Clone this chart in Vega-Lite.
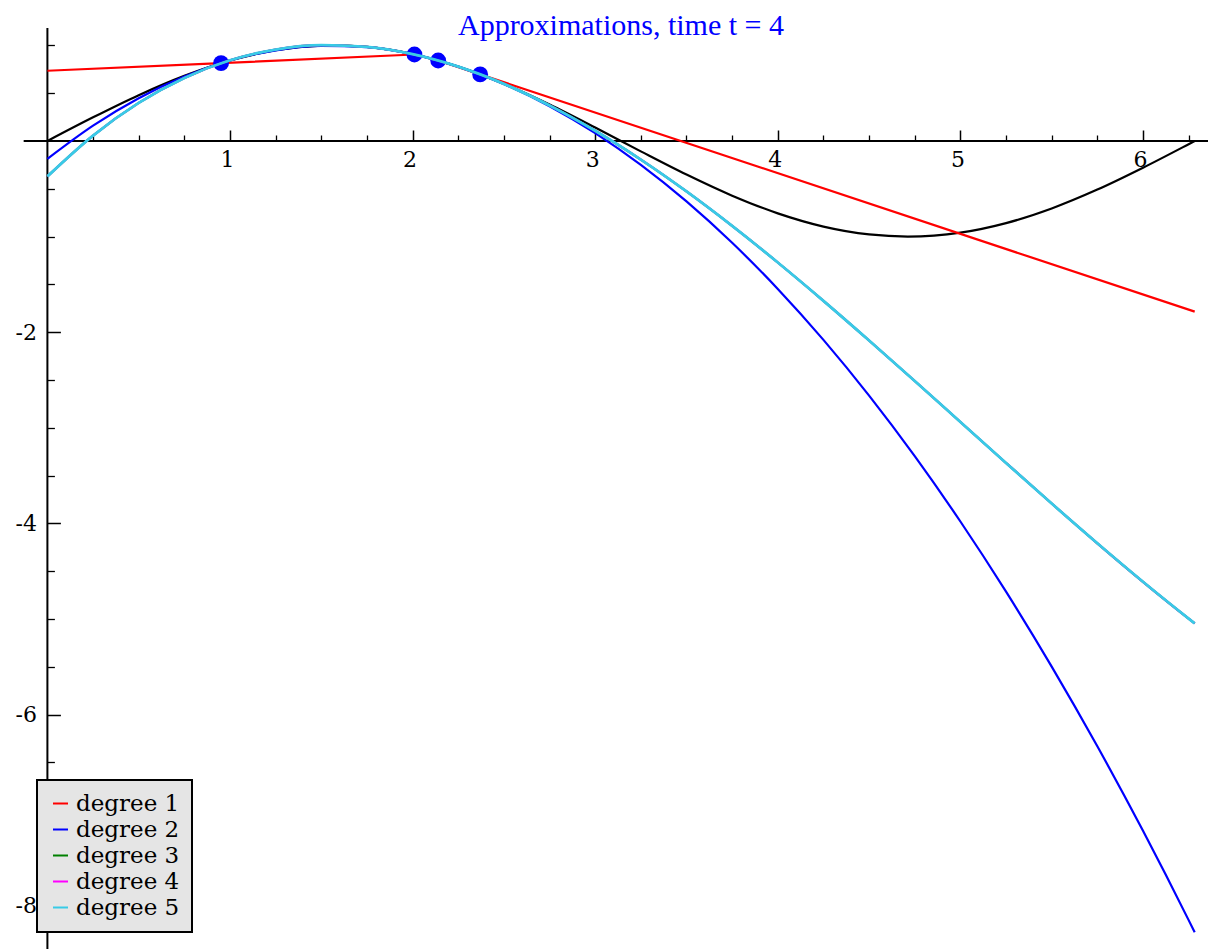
{
  "$schema": "https://vega.github.io/schema/vega-lite/v6.json",
  "width": 1208,
  "height": 949,
  "autosize": {"type": "none"},
  "padding": 0,
  "background": "white",
  "view": {"stroke": null},
  "title": {"text": "Approximations, time t = 4", "color": "#0000ff", "font": "Liberation Serif", "fontSize": 30, "fontWeight": "normal", "anchor": "middle", "frame": "group", "baseline": "alphabetic", "offset": -65, "dx": 17},
  "datasets": {
    "xaxis": [{"x": -0.13, "x2": 6.356, "y": 0}],
    "yaxis": [{"x": 0, "y": -8.452, "y2": 1.182}],
    "sin": [
      {"x": 0, "y": 0}, {"x": 0.25, "y": 0.2474}, {"x": 0.5, "y": 0.4794}, {"x": 0.75, "y": 0.6816},
      {"x": 1, "y": 0.8415}, {"x": 1.25, "y": 0.949}, {"x": 1.5, "y": 0.9975}, {"x": 1.5708, "y": 1.0},
      {"x": 1.75, "y": 0.984}, {"x": 2, "y": 0.9093}, {"x": 2.25, "y": 0.7781}, {"x": 2.5, "y": 0.5985},
      {"x": 2.75, "y": 0.3817}, {"x": 3, "y": 0.1411}, {"x": 3.25, "y": -0.1082}, {"x": 3.5, "y": -0.3508},
      {"x": 3.75, "y": -0.5716}, {"x": 4, "y": -0.7568}, {"x": 4.25, "y": -0.895}, {"x": 4.5, "y": -0.9775},
      {"x": 4.7124, "y": -1.0}, {"x": 5, "y": -0.9589}, {"x": 5.25, "y": -0.8589}, {"x": 5.5, "y": -0.7055},
      {"x": 5.75, "y": -0.5083}, {"x": 6, "y": -0.2794}, {"x": 6.25, "y": -0.0332}, {"x": 6.2832, "y": 0}
    ],
    "red": [
      {"x": 0, "y": 0.735}, {"x": 0.951, "y": 0.814}, {"x": 2.01, "y": 0.905},
      {"x": 2.14, "y": 0.842}, {"x": 2.37, "y": 0.697}, {"x": 6.2832, "y": -1.785}
    ],
    "blue": [
      {"x": 0, "y": -0.1867}, {"x": 0.25, "y": 0.1606}, {"x": 0.5, "y": 0.4479}, {"x": 0.75, "y": 0.675},
      {"x": 1, "y": 0.842}, {"x": 1.25, "y": 0.9489}, {"x": 1.5, "y": 0.9957}, {"x": 1.75, "y": 0.9824},
      {"x": 2, "y": 0.909}, {"x": 2.25, "y": 0.778}, {"x": 2.5, "y": 0.5963}, {"x": 2.75, "y": 0.3644},
      {"x": 3, "y": 0.0824}, {"x": 3.25, "y": -0.2499}, {"x": 3.5, "y": -0.6322}, {"x": 3.75, "y": -1.0648},
      {"x": 4, "y": -1.5475}, {"x": 4.25, "y": -2.0804}, {"x": 4.5, "y": -2.6635}, {"x": 4.75, "y": -3.2968},
      {"x": 5, "y": -3.9802}, {"x": 5.25, "y": -4.7138}, {"x": 5.5, "y": -5.4976}, {"x": 5.75, "y": -6.3315},
      {"x": 6, "y": -7.2156}, {"x": 6.25, "y": -8.1499}, {"x": 6.2832, "y": -8.2777}
    ],
    "cubic": [
      {"x": 0, "y": -0.37}, {"x": 0.25, "y": 0.0572}, {"x": 0.5, "y": 0.399}, {"x": 0.75, "y": 0.6599},
      {"x": 1, "y": 0.8444}, {"x": 1.25, "y": 0.9569}, {"x": 1.5, "y": 1.002}, {"x": 1.75, "y": 0.9841},
      {"x": 2, "y": 0.9078}, {"x": 2.25, "y": 0.7774}, {"x": 2.5, "y": 0.5976}, {"x": 2.75, "y": 0.3726},
      {"x": 3, "y": 0.1072}, {"x": 3.25, "y": -0.1944}, {"x": 3.5, "y": -0.5275}, {"x": 3.75, "y": -0.8878},
      {"x": 4, "y": -1.2707}, {"x": 4.25, "y": -1.6717}, {"x": 4.5, "y": -2.0864}, {"x": 4.75, "y": -2.5103},
      {"x": 5, "y": -2.9389}, {"x": 5.25, "y": -3.3677}, {"x": 5.5, "y": -3.7923}, {"x": 5.75, "y": -4.2081},
      {"x": 6, "y": -4.6107}, {"x": 6.25, "y": -4.9956}, {"x": 6.2832, "y": -5.0452}
    ],
    "pts": [
      {"x": 0.951, "y": 0.814}, {"x": 2.01, "y": 0.905}, {"x": 2.14, "y": 0.842}, {"x": 2.37, "y": 0.697}
    ]
  },
  "resolve": {"axis": {"x": "independent", "y": "independent"}},
  "layer": [
    {
      "data": {"name": "xaxis"},
      "mark": {"type": "rule", "color": "black", "strokeWidth": 2},
      "encoding": {
        "x": {"field": "x", "type": "quantitative", "scale": {"domain": [-0.2596, 6.356], "nice": false, "zero": false},
          "axis": {"orient": "bottom", "offset": -808, "values": [0.25, 0.5, 0.75, 1.25, 1.5, 1.75, 2.25, 2.5, 2.75, 3.25, 3.5, 3.75, 4.25, 4.5, 4.75, 5.25, 5.5, 5.75, 6.25],
            "domain": false, "grid": false, "labels": false, "title": null, "tickSize": -6, "tickWidth": 1.3, "tickColor": "black"}},
        "x2": {"field": "x2"},
        "y": {"field": "y", "type": "quantitative", "scale": {"domain": [-8.452, 1.475], "nice": false, "zero": false},
          "axis": {"orient": "left", "offset": -47.4, "values": [-7.5, -7, -6.5, -5.5, -5, -4.5, -3.5, -3, -2.5, -1.5, -1, -0.5, 0.5, 1],
            "domain": false, "grid": false, "labels": false, "title": null, "tickSize": -7, "tickWidth": 1.3, "tickColor": "black"}}
      }
    },
    {
      "data": {"name": "yaxis"},
      "mark": {"type": "rule", "color": "black", "strokeWidth": 2},
      "encoding": {
        "x": {"field": "x", "type": "quantitative", "scale": {"domain": [-0.2596, 6.356], "nice": false, "zero": false}, "axis": null},
        "y": {"field": "y", "type": "quantitative", "scale": {"domain": [-8.452, 1.475], "nice": false, "zero": false}, "axis": null},
        "y2": {"field": "y2"}
      }
    },
    {
      "data": {"name": "sin"},
      "mark": {"type": "line", "color": "black", "strokeWidth": 2.2, "interpolate": "monotone"},
      "encoding": {
        "x": {"field": "x", "type": "quantitative", "scale": {"domain": [-0.2596, 6.356], "nice": false, "zero": false},
          "axis": {"orient": "bottom", "offset": -808, "values": [1, 2, 3, 4, 5, 6], "domain": false, "grid": false, "title": null,
            "tickSize": -11, "tickWidth": 1.5, "tickColor": "black", "labelFont": "DejaVu Serif", "labelFontSize": 22, "labelColor": "black",
            "labelPadding": 19, "labelBaseline": "top", "labelOffset": -3, "labelFlush": false, "labelOverlap": false, "labelExpr": "'' + datum.value"}},
        "y": {"field": "y", "type": "quantitative", "scale": {"domain": [-8.452, 1.475], "nice": false, "zero": false},
          "axis": {"orient": "left", "offset": -47.4, "values": [-8, -6, -4, -2], "domain": false, "grid": false, "title": null,
            "tickSize": -13, "tickWidth": 1.5, "tickColor": "black", "labelFont": "DejaVu Serif", "labelFontSize": 22, "labelColor": "black",
            "labelPadding": 24, "labelFlush": false, "labelOverlap": false, "labelExpr": "'' + datum.value"}}
      }
    },
    {
      "data": {"name": "red"},
      "mark": {"type": "line", "strokeWidth": 2.2},
      "encoding": {
        "x": {"field": "x", "type": "quantitative", "scale": {"domain": [-0.2596, 6.356], "nice": false, "zero": false}, "axis": null},
        "y": {"field": "y", "type": "quantitative", "scale": {"domain": [-8.452, 1.475], "nice": false, "zero": false}, "axis": null},
        "color": {"datum": "degree 1", "type": "nominal",
          "scale": {"domain": ["degree 1", "degree 2", "degree 3", "degree 4", "degree 5"], "range": ["#ff0000", "#0000ff", "#008000", "#ff00ff", "#38cbe6"]},
          "legend": {"orient": "none", "legendX": 37, "legendY": 780, "title": null, "fillColor": "#e5e5e5", "strokeColor": "black",
            "padding": 12, "symbolType": "stroke", "symbolStrokeWidth": 2, "symbolSize": 225, "labelFont": "DejaVu Serif", "labelFontSize": 23,
            "labelColor": "black", "rowPadding": 2, "labelOffset": 4,
            "encode": {"legend": {"update": {"strokeWidth": {"value": 2}}}}}}
      }
    },
    {
      "data": {"name": "blue"},
      "mark": {"type": "line", "strokeWidth": 2.2, "interpolate": "monotone"},
      "encoding": {
        "x": {"field": "x", "type": "quantitative", "scale": {"domain": [-0.2596, 6.356], "nice": false, "zero": false}, "axis": null},
        "y": {"field": "y", "type": "quantitative", "scale": {"domain": [-8.452, 1.475], "nice": false, "zero": false}, "axis": null},
        "color": {"datum": "degree 2", "type": "nominal"}
      }
    },
    {
      "data": {"name": "pts"},
      "mark": {"type": "point", "filled": true, "opacity": 1, "color": "#0000ff", "size": 250},
      "encoding": {
        "x": {"field": "x", "type": "quantitative", "scale": {"domain": [-0.2596, 6.356], "nice": false, "zero": false}, "axis": null},
        "y": {"field": "y", "type": "quantitative", "scale": {"domain": [-8.452, 1.475], "nice": false, "zero": false}, "axis": null}
      }
    },
    {
      "data": {"name": "cubic"},
      "mark": {"type": "line", "strokeWidth": 2.2, "interpolate": "monotone"},
      "encoding": {
        "x": {"field": "x", "type": "quantitative", "scale": {"domain": [-0.2596, 6.356], "nice": false, "zero": false}, "axis": null},
        "y": {"field": "y", "type": "quantitative", "scale": {"domain": [-8.452, 1.475], "nice": false, "zero": false}, "axis": null},
        "color": {"datum": "degree 3", "type": "nominal"}
      }
    },
    {
      "data": {"name": "cubic"},
      "mark": {"type": "line", "strokeWidth": 2.2, "interpolate": "monotone"},
      "encoding": {
        "x": {"field": "x", "type": "quantitative", "scale": {"domain": [-0.2596, 6.356], "nice": false, "zero": false}, "axis": null},
        "y": {"field": "y", "type": "quantitative", "scale": {"domain": [-8.452, 1.475], "nice": false, "zero": false}, "axis": null},
        "color": {"datum": "degree 4", "type": "nominal"}
      }
    },
    {
      "data": {"name": "cubic"},
      "mark": {"type": "line", "strokeWidth": 2.8, "interpolate": "monotone"},
      "encoding": {
        "x": {"field": "x", "type": "quantitative", "scale": {"domain": [-0.2596, 6.356], "nice": false, "zero": false}, "axis": null},
        "y": {"field": "y", "type": "quantitative", "scale": {"domain": [-8.452, 1.475], "nice": false, "zero": false}, "axis": null},
        "color": {"datum": "degree 5", "type": "nominal"}
      }
    }
  ]
}
